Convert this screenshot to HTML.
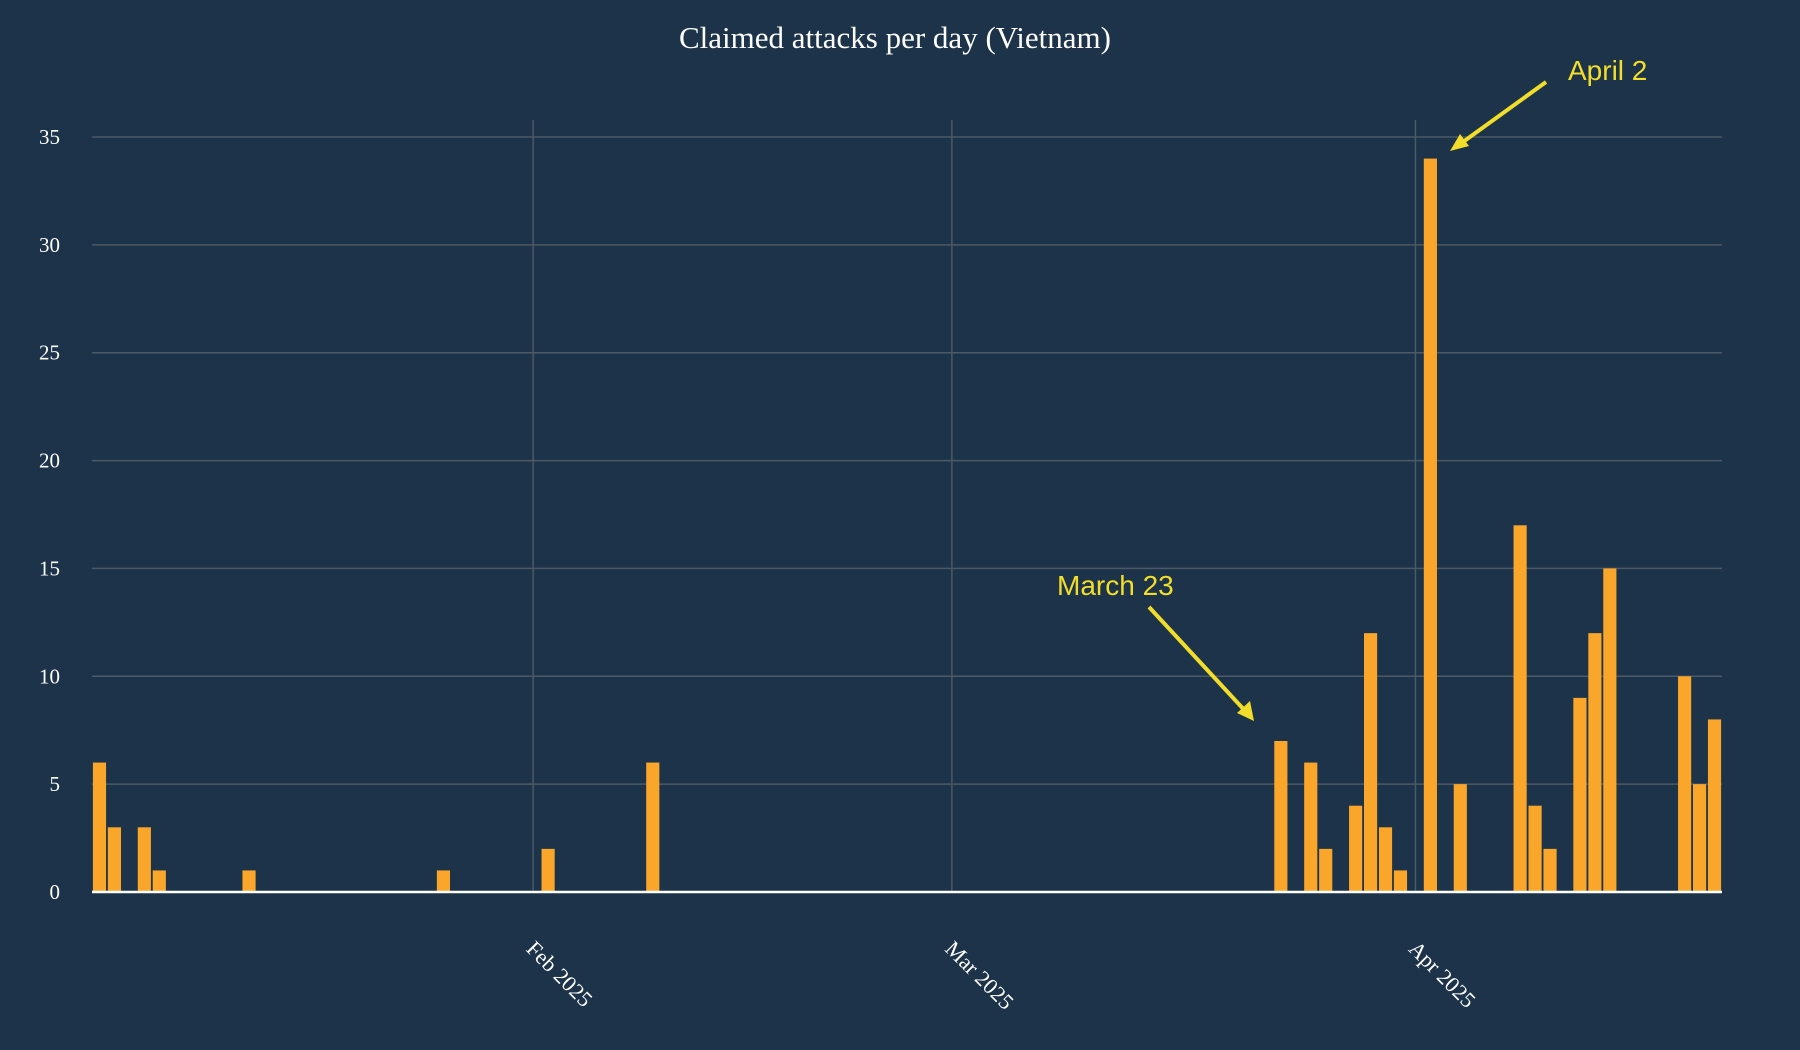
<!DOCTYPE html>
<html><head><meta charset="utf-8"><style>
html,body{margin:0;padding:0;background:#1c3349;}
svg{display:block;}
</style></head><body>
<svg id="chart" width="1800" height="1050" xmlns="http://www.w3.org/2000/svg">
<rect width="1800" height="1050" fill="#1c3349"/>
<text x="895" y="48" text-anchor="middle" fill="#ffffff" font-family="Liberation Serif, serif" font-size="31">Claimed attacks per day (Vietnam)</text>
<g id="grid"></g><g id="bars"></g><g id="axes"></g>
<g id="annotations">
<text x="1568" y="80" fill="#f2dd2a" font-family="Liberation Sans, sans-serif" font-size="28">April 2</text>
<line x1="1546" y1="82" x2="1456" y2="147" stroke="#f2dd2a" stroke-width="4"/>
<polygon points="1450,151 1460,134 1469,146" fill="#f2dd2a"/>
<text x="1057" y="595" fill="#f2dd2a" font-family="Liberation Sans, sans-serif" font-size="28">March 23</text>
<line x1="1149" y1="607" x2="1248" y2="714" stroke="#f2dd2a" stroke-width="4"/>
<polygon points="1254,721 1237,713 1250,701" fill="#f2dd2a"/>
</g>
</svg>
<script>
const dates=["2025-01-03","2025-01-04","2025-01-06","2025-01-07","2025-01-13","2025-01-26","2025-02-02","2025-02-09","2025-03-23","2025-03-25","2025-03-26","2025-03-28","2025-03-29","2025-03-30","2025-03-31","2025-04-02","2025-04-04","2025-04-08","2025-04-09","2025-04-10","2025-04-12","2025-04-13","2025-04-14","2025-04-19","2025-04-20","2025-04-21"];
const counts=[6,3,3,1,1,1,2,6,7,6,2,4,12,3,1,34,5,17,4,2,9,12,15,10,5,8];
const yTicks=[0,5,10,15,20,25,30,35];
const xTicks=["2025-02-01","2025-03-01","2025-04-01"];
const xTickLabels=["Feb 2025","Mar 2025","Apr 2025"];
const NS="http://www.w3.org/2000/svg";
const L=92,R=1722,T=120,B=892;
const d0=Date.UTC(2025,0,2,12), d1=Date.UTC(2025,3,21,12);
function dayVal(s){const p=s.split("-");return Date.UTC(+p[0],p[1]-1,+p[2]);}
function x(s){return L+(dayVal(s)-d0)/(d1-d0)*(R-L);}
function y(v){return B-v/35*(B-137);}
const pxDay=(R-L)/((d1-d0)/86400000);
function mk(tag,attrs,parent){const e=document.createElementNS(NS,tag);for(const k in attrs)e.setAttribute(k,attrs[k]);parent.appendChild(e);return e;}
const grid=document.getElementById("grid"),bars=document.getElementById("bars"),axes=document.getElementById("axes");
yTicks.forEach(v=>{
 if(v>0){const g=mk("line",{x1:L,x2:R,y1:y(v),y2:y(v),stroke:"#4c5966","stroke-width":1.5},grid);
 
 }
 const t=mk("text",{x:60,y:y(v)+7,"text-anchor":"end",fill:"#ffffff","font-family":"Liberation Serif, serif","font-size":21},axes);
 t.textContent=v;
 
 
});
xTicks.forEach((d,i)=>{
 const xx=x(d);
 const g=mk("line",{x1:xx,x2:xx,y1:T,y2:B,stroke:"#4c5966","stroke-width":1.5},grid);
 
 
 const t=mk("text",{x:xx-8,y:950,fill:"#ffffff","font-family":"Liberation Serif, serif","font-size":22,transform:`rotate(45 ${xx-8} 950)`},axes);
 t.textContent=xTickLabels[i];
 
 
});
dates.forEach((d,i)=>{
 const w=pxDay*0.88;
 const r=mk("rect",{x:x(d)-w/2,y:y(counts[i]),width:w,height:B-y(counts[i]),fill:"#f9a62b"},bars);
 
 
});
const base=mk("line",{x1:L,x2:R,y1:B,y2:B,stroke:"#ffffff","stroke-width":2.5},axes);


</script>
</body></html>
